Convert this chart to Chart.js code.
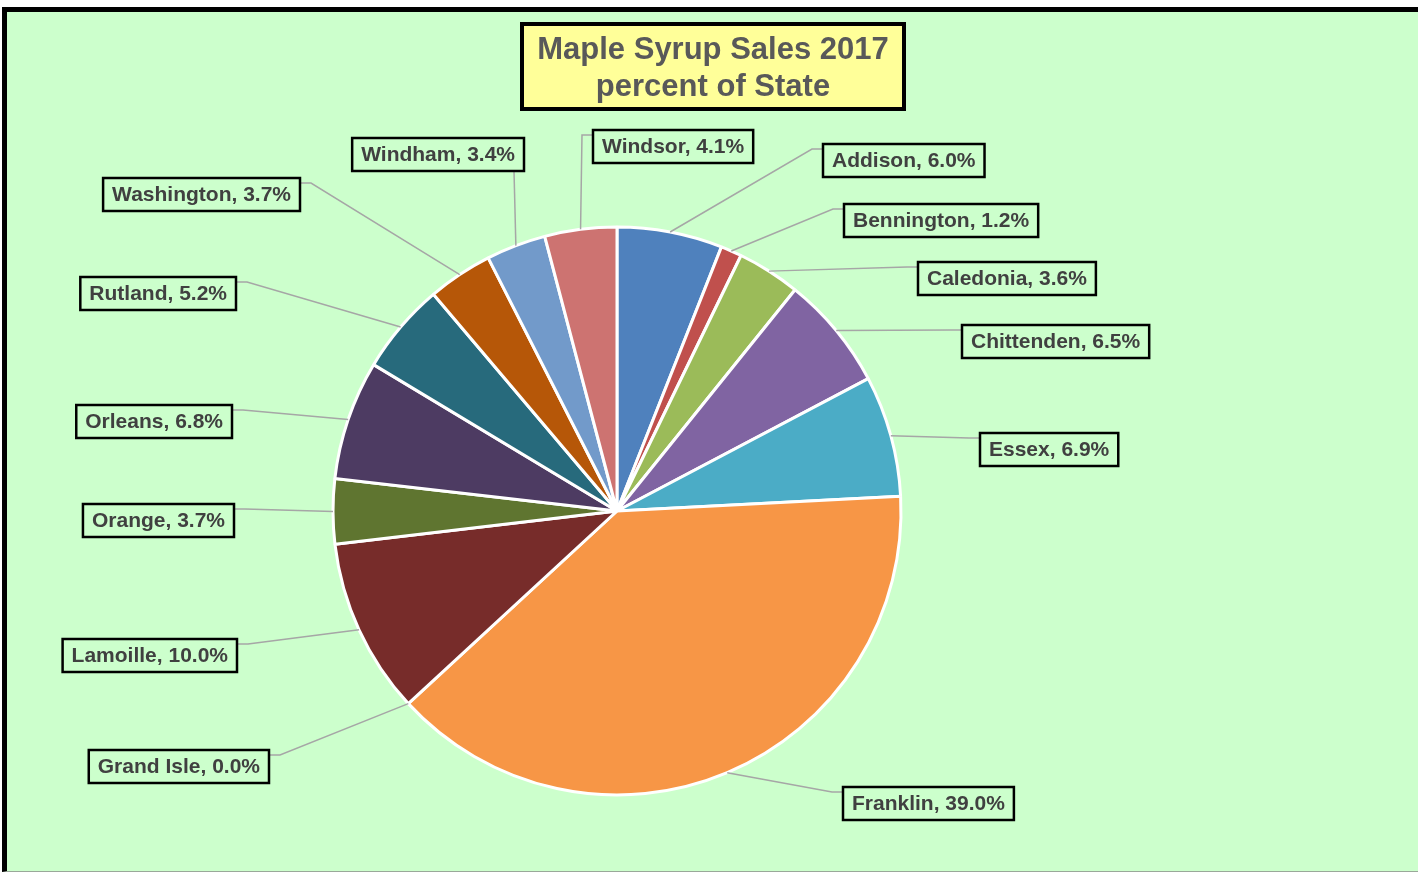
<!DOCTYPE html>
<html>
<head>
<meta charset="utf-8">
<script src="https://cdn.jsdelivr.net/npm/chart.js@4/dist/chart.umd.min.js"></script>
<style>
  html, body { margin: 0; padding: 0; background: #fff; overflow: hidden; }
  #frame {
    position: absolute; left: 2px; top: 7px;
    width: 1412px; height: 859px;
    border-left: 5px solid #000; border-top: 5px solid #000; border-bottom: 1px solid #9aa89a;
    background: #ccffcc;
  }
  canvas { display: block; }
</style>
</head>
<body>
<div id="frame"><canvas id="chart" width="1412" height="859"></canvas></div>
<script>
const counties = ['Addison', 'Bennington', 'Caledonia', 'Chittenden', 'Essex', 'Franklin', 'Grand Isle',
  'Lamoille', 'Orange', 'Orleans', 'Rutland', 'Washington', 'Windham', 'Windsor'];
const sharePct = [6.0, 1.2, 3.6, 6.5, 6.9, 39.0, 0.0, 10.0, 3.7, 6.8, 5.2, 3.7, 3.4, 4.1];
const titleLines = ['Maple Syrup Sales 2017', 'percent of State'];

const sliceColors = ['#4f81bd', '#c0504d', '#9bbb59', '#8064a2', '#4bacc6', '#f79646', '#2c4d75',
  '#772c2a', '#5f7530', '#4d3b62', '#276a7c', '#b65708', '#729aca', '#cd7371'];

// label box placement relative to pie centre: side the leader attaches to, [dx, dy] of that edge / box top
const labelLayout = [
  ['R', 206, -367], ['R', 227, -307], ['R', 301, -249], ['R', 345, -186], ['R', 363, -78],
  ['R', 226, 276], ['L', -348, 239], ['L', -380, 128], ['L', -383, -7], ['L', -385, -106],
  ['L', -381, -234], ['L', -317, -333], ['B', -93, -373], ['R', -24, -381],
];

const labelFont = 'bold 21px "Liberation Sans", Arial, sans-serif';
const titleFont = 'bold 31px "Liberation Sans", Arial, sans-serif';

const boxLabels = {
  id: 'boxLabels',
  afterDraw(chart) {
    const ctx = chart.ctx;
    const arcs = chart.getDatasetMeta(0).data;

    // title box
    const tw = 382, th = 85;
    const tx = chart.width / 2 - tw / 2, ty = 12;
    ctx.save();
    ctx.fillStyle = '#ffff99';
    ctx.fillRect(tx, ty, tw, th);
    ctx.lineWidth = 4;
    ctx.strokeStyle = '#000';
    ctx.strokeRect(tx, ty, tw, th);
    ctx.font = titleFont;
    ctx.fillStyle = '#595959';
    ctx.textAlign = 'center';
    ctx.textBaseline = 'middle';
    ctx.fillText(titleLines[0], chart.width / 2, ty + 26);
    ctx.fillText(titleLines[1], chart.width / 2, ty + 63);

    // data labels with leader lines
    ctx.font = labelFont;
    arcs.forEach((arc, i) => {
      const { x, y, startAngle, endAngle, outerRadius } = arc.getProps(['x', 'y', 'startAngle', 'endAngle', 'outerRadius'], true);
      const mid = (startAngle + endAngle) / 2;
      const px = x + Math.cos(mid) * outerRadius;
      const py = y + Math.sin(mid) * outerRadius;

      const text = `${counties[i]}, ${sharePct[i].toFixed(1)}%`;
      const w = ctx.measureText(text).width + 18;
      const h = 33;
      const [side, dx, dy] = labelLayout[i];
      const left = side === 'R' ? x + dx : x + dx - w;
      const top = y + dy;

      ctx.beginPath();
      ctx.moveTo(px, py);
      if (side === 'R') {
        ctx.lineTo(left - 11, top + 5);
        ctx.lineTo(left, top + 5);
      } else if (side === 'L') {
        ctx.lineTo(left + w + 11, top + 5);
        ctx.lineTo(left + w, top + 5);
      } else {
        ctx.lineTo(left + w - 10, top + h);
      }
      ctx.strokeStyle = '#a6a6a6';
      ctx.lineWidth = 1.5;
      ctx.stroke();

      ctx.lineWidth = 2.5;
      ctx.strokeStyle = '#000';
      ctx.strokeRect(left, top, w, h);
      ctx.fillStyle = '#404040';
      ctx.fillText(text, left + w / 2, top + h / 2 + 1);
    });
    ctx.restore();
  },
};

new Chart(document.getElementById('chart'), {
  type: 'pie',
  data: {
    labels: counties,
    datasets: [{
      data: sharePct,
      backgroundColor: sliceColors,
      borderColor: '#ffffff',
      borderWidth: 3,
      radius: 284,
    }],
  },
  options: {
    responsive: false,
    animation: false,
    devicePixelRatio: 1,
    layout: { padding: { left: 0, right: 192, top: 139, bottom: 0 } },
    plugins: { legend: { display: false }, tooltip: { enabled: false }, title: { display: false } },
  },
  plugins: [boxLabels],
});
</script>
</body>
</html>
